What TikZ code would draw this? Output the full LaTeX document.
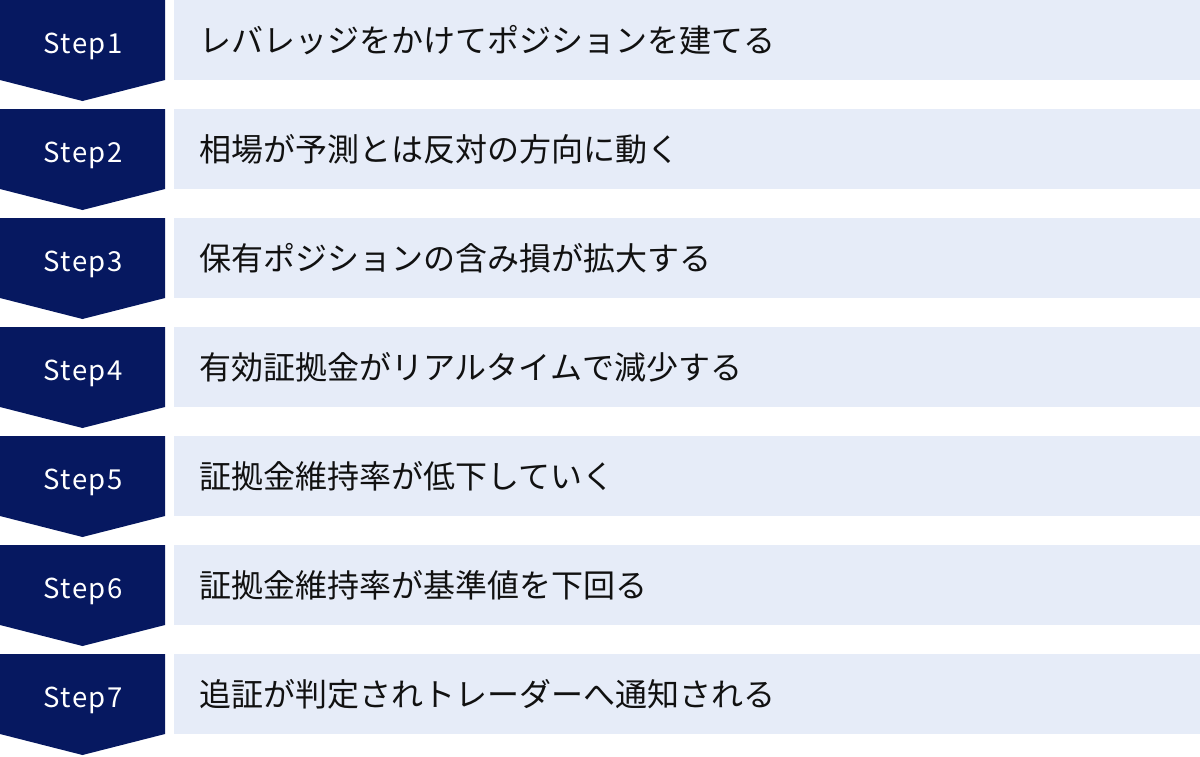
\documentclass[tikz,border=0pt]{standalone}
\usepackage{fontspec}
\setmainfont{Noto Sans CJK JP}
\newfontfamily\stepfont[LetterSpace=6]{Noto Sans CJK JP}
\definecolor{navy}{RGB}{6,24,96}
\definecolor{paleblue}{RGB}{230,236,248}
\definecolor{ink}{RGB}{17,17,17}
\begin{document}
\begin{tikzpicture}[x=1pt,y=-1pt,
  stepbox/.style={fill=navy},
  textbar/.style={fill=paleblue},
  steplabel/.style={text=white,font=\stepfont\fontsize{27.5}{32}\selectfont,inner sep=0pt,anchor=base},
  itemtext/.style={text=ink,font=\fontsize{32}{38}\selectfont,inner sep=0pt,anchor=west}]
\useasboundingbox (0,0) rectangle (1200,756);
\foreach \i/\t in {0/{レバレッジをかけてポジションを建てる},
                   1/{相場が予測とは反対の方向に動く},
                   2/{保有ポジションの含み損が拡大する},
                   3/{有効証拠金がリアルタイムで減少する},
                   4/{証拠金維持率が低下していく},
                   5/{証拠金維持率が基準値を下回る},
                   6/{追証が判定されトレーダーへ通知される}}{
  \pgfmathsetmacro{\top}{109*\i}
  \fill[stepbox] (0,\top) -- (165,\top) -- (165,\top+80) -- (82.5,\top+101) -- (0,\top+80) -- cycle;
  \fill[textbar] (174,\top) rectangle (1200,\top+80);
  \pgfmathtruncatemacro{\n}{\i+1}
  \node[steplabel] (step\n) at (83,\top+53) {Step\n};
  \node[itemtext] (item\n) at (199,\top+40) {\t};
}
\end{tikzpicture}
\end{document}
